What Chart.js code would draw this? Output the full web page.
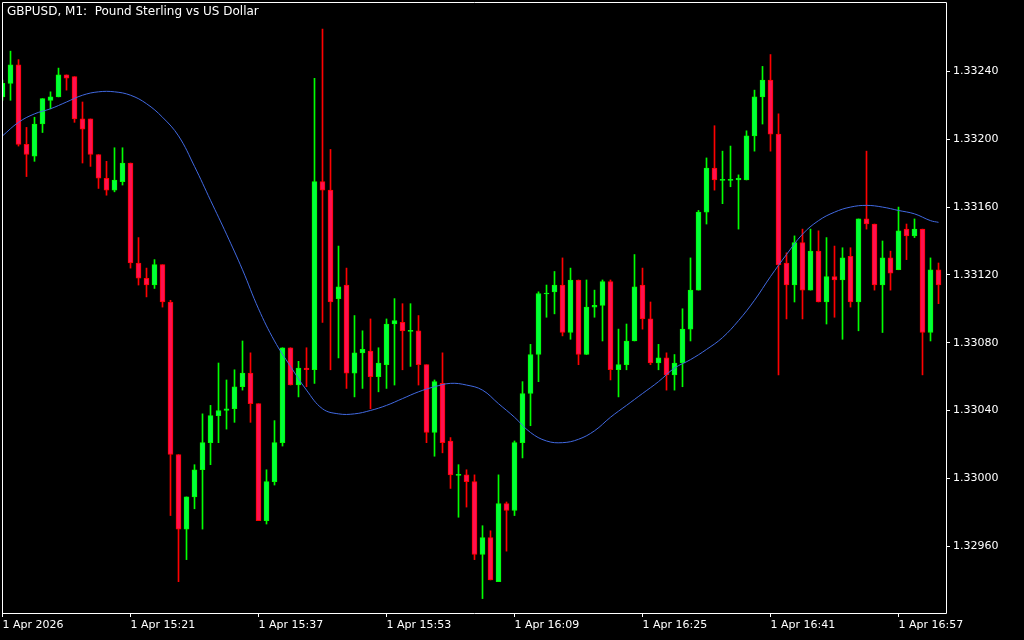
<!DOCTYPE html>
<html>
<head>
<meta charset="utf-8">
<script src="https://cdn.jsdelivr.net/npm/chart.js@4/dist/chart.umd.min.js"></script>
<style>
  html, body { margin: 0; padding: 0; background: #000; }
  #wrap { position: relative; width: 1024px; height: 640px; }
  #title { position: absolute; left: 7px; top: 4px; color: #fff; font: 12px "DejaVu Sans", sans-serif; white-space: pre; }
  canvas { display: block; }
</style>
</head>
<body>
<div id="wrap">
  <canvas id="c" width="1024" height="640"></canvas>
  <div id="title">GBPUSD, M1:  Pound Sterling vs US Dollar</div>
</div>
<script>
// ---- data (1-minute candles, 1 Apr 2026, starting 15:05) ----
const opens = [
1.33225,1.33233,1.33244,1.33197,1.33190,1.33209,1.33223,1.33225,1.33238,1.33237,
1.33212,1.33212,1.33191,1.33177,1.33170,1.33175,1.33186,1.33127,1.33118,1.33114,
1.33126,1.33104,1.33014,1.32970,1.32989,1.33005,1.33021,1.33037,1.33040,1.33041,
1.33054,1.33062,1.33044,1.32975,1.32998,1.33021,1.33077,1.33055,1.33065,1.33064,
1.33175,1.33170,1.33106,1.33114,1.33062,1.33074,1.33075,1.33060,1.33067,1.33091,
1.33092,1.33087,1.33087,1.33067,1.33027,1.33056,1.33022,1.33002,1.33002,1.32998,
1.32955,1.32965,1.32939,1.32985,1.32981,1.33021,1.33050,1.33073,1.33109,1.33110,
1.33114,1.33086,1.33117,1.33073,1.33101,1.33102,1.33116,1.33064,1.33067,1.33081,
1.33114,1.33094,1.33068,1.33071,1.33061,1.33068,1.33088,1.33111,1.33157,1.33183,
1.33176,1.33176,1.33176,1.33176,1.33202,1.33225,1.33235,1.33203,1.33127,1.33114,
1.33139,1.33111,1.33134,1.33104,1.33119,1.33117,1.33131,1.33104,1.33153,1.33150,
1.33114,1.33130,1.33123,1.33147,1.33143,1.33147,1.33086,1.33123];
const highs = [
1.33235,1.33252,1.33247,1.33207,1.33213,1.33224,1.33228,1.33242,1.33238,1.33237,
1.33222,1.33212,1.33191,1.33187,1.33195,1.33195,1.33186,1.33142,1.33124,1.33129,
1.33126,1.33105,1.33014,1.32989,1.33008,1.33038,1.33043,1.33068,1.33058,1.33064,
1.33081,1.33074,1.33044,1.33005,1.33034,1.33077,1.33077,1.33069,1.33077,1.33236,
1.33265,1.33194,1.33137,1.33124,1.33096,1.33087,1.33094,1.33077,1.33094,1.33106,
1.33103,1.33103,1.33096,1.33067,1.33058,1.33074,1.33024,1.33008,1.33005,1.33002,
1.32972,1.32969,1.33002,1.32986,1.33022,1.33057,1.33079,1.33110,1.33114,1.33122,
1.33130,1.33124,1.33117,1.33117,1.33111,1.33117,1.33117,1.33088,1.33091,1.33132,
1.33124,1.33104,1.33079,1.33074,1.33073,1.33100,1.33130,1.33158,1.33189,1.33208,
1.33193,1.33196,1.33179,1.33205,1.33229,1.33243,1.33250,1.33215,1.33133,1.33143,
1.33147,1.33147,1.33146,1.33142,1.33137,1.33136,1.33136,1.33153,1.33193,1.33150,
1.33140,1.33134,1.33160,1.33150,1.33153,1.33147,1.33130,1.33127];
const lows = [
1.33223,1.33223,1.33196,1.33178,1.33187,1.33204,1.33218,1.33225,1.33229,1.33210,
1.33186,1.33184,1.33171,1.33167,1.33169,1.33173,1.33124,1.33114,1.33107,1.33112,
1.33101,1.32978,1.32939,1.32952,1.32982,1.32970,1.33008,1.33021,1.33029,1.33033,
1.33052,1.33033,1.32975,1.32973,1.32996,1.33019,1.33055,1.33048,1.33054,1.33056,
1.33092,1.33064,1.33071,1.33053,1.33048,1.33053,1.33041,1.33051,1.33053,1.33055,
1.33064,1.33066,1.33055,1.33021,1.33013,1.33015,1.32994,1.32977,1.32983,1.32952,
1.32929,1.32940,1.32939,1.32957,1.32978,1.33012,1.33031,1.33057,1.33095,1.33097,
1.33084,1.33082,1.33067,1.33073,1.33095,1.33081,1.33058,1.33048,1.33064,1.33081,
1.33088,1.33067,1.33064,1.33052,1.33052,1.33054,1.33081,1.33111,1.33150,1.33170,
1.33162,1.33172,1.33147,1.33176,1.33193,1.33209,1.33193,1.33061,1.33094,1.33104,
1.33094,1.33111,1.33104,1.33091,1.33095,1.33082,1.33101,1.33087,1.33147,1.33111,
1.33086,1.33111,1.33123,1.33129,1.33142,1.33061,1.33081,1.33103];
const closes = [
1.33233,1.33244,1.33197,1.33191,1.33209,1.33224,1.33225,1.33238,1.33236,1.33212,
1.33206,1.33191,1.33177,1.33170,1.33176,1.33186,1.33127,1.33118,1.33114,1.33126,
1.33104,1.33014,1.32970,1.32989,1.33005,1.33021,1.33037,1.33040,1.33041,1.33054,
1.33062,1.33044,1.32975,1.32998,1.33021,1.33077,1.33055,1.33065,1.33064,1.33175,
1.33170,1.33104,1.33113,1.33062,1.33074,1.33076,1.33060,1.33068,1.33091,1.33093,
1.33087,1.33087,1.33067,1.33027,1.33057,1.33021,1.33002,1.33002,1.32998,1.32955,
1.32965,1.32940,1.32985,1.32981,1.33021,1.33050,1.33073,1.33109,1.33109,1.33114,
1.33086,1.33117,1.33073,1.33101,1.33102,1.33116,1.33064,1.33067,1.33081,1.33113,
1.33094,1.33068,1.33071,1.33061,1.33068,1.33088,1.33111,1.33157,1.33183,1.33176,
1.33176,1.33176,1.33177,1.33202,1.33225,1.33235,1.33203,1.33126,1.33114,1.33139,
1.33111,1.33134,1.33104,1.33119,1.33117,1.33130,1.33104,1.33153,1.33150,1.33114,
1.33130,1.33121,1.33146,1.33143,1.33147,1.33086,1.33123,1.33114];

// moving average (blue line), sampled at candle indices
const maIndex = [0,2,4,6,8,10,12,14,16,18,20,22,24,26,28,30,32,34,36,38,40,42,44,46,48,50,52,54,56,58,
                 60,62,64,66,68,70,72,74,76,78,80,82,84,86,88,90,92,94,96,98,100,102,104,106,108,110,112,114,116,117];
const maValues = [
1.33202,1.33210,1.33215,1.33218,1.33222,1.33226,1.33228,1.33228,1.33226,1.33221,
1.33213,1.33202,1.33184,1.33164,1.33144,1.33123,1.33100,1.33081,1.33066,1.33052,
1.33041,1.33038,1.33038,1.33040,1.33043,1.33047,1.33051,1.33054,1.33056,1.33055,
1.33052,1.33044,1.33036,1.33027,1.33022,1.33021,1.33023,1.33028,1.33036,1.33043,
1.33050,1.33057,1.33065,1.33070,1.33076,1.33083,1.33093,1.33105,1.33119,1.33132,
1.33144,1.33152,1.33157,1.33160,1.33161,1.33160,1.33158,1.33156,1.33152,1.33151];

// axis ticks
const xTickIndex = [0,16,32,48,64,80,96,112];
const xTickLabels = ["1 Apr 2026","1 Apr 15:21","1 Apr 15:37","1 Apr 15:53","1 Apr 16:09","1 Apr 16:25","1 Apr 16:41","1 Apr 16:57"];
const yTickValues = [1.32960,1.33000,1.33040,1.33080,1.33120,1.33160,1.33200,1.33240];

// ---- styling ----
const BULL_FILL = '#00ff3c', BULL_LINE = '#00ff00';
const BEAR_FILL = '#ff1050', BEAR_LINE = '#ff0000';
const isBull = i => closes[i] >= opens[i];

const bodyData = opens.map((o, i) => {
  let a = Math.min(o, closes[i]), b = Math.max(o, closes[i]);
  if (b - a < 0.000004) { a -= 0.000003; b += 0.000003; }
  return { x: i, y: [a, b] };
});
const wickData = opens.map((o, i) => ({ x: i, y: [lows[i], highs[i]] }));
const maData = maIndex.map((k, i) => ({ x: k, y: maValues[i] }));

Chart.defaults.font.family = '"DejaVu Sans", sans-serif';
Chart.defaults.font.size = 11;
Chart.defaults.color = '#ffffff';

const frame = {
  id: 'frame',
  afterDraw(chart) {
    const { ctx, chartArea: a } = chart;
    ctx.save();
    ctx.strokeStyle = '#ffffff';
    ctx.lineWidth = 1;
    ctx.beginPath();
    ctx.moveTo(a.left + 0.5, a.top + 0.5);
    ctx.lineTo(a.right + 0.5, a.top + 0.5);
    ctx.lineTo(a.right + 0.5, a.bottom + 0.5);
    ctx.lineTo(a.left + 0.5, a.bottom + 0.5);
    ctx.closePath();
    ctx.stroke();
    ctx.restore();
  }
};

new Chart(document.getElementById('c'), {
  type: 'bar',
  data: {
    datasets: [
      { type: 'line', label: 'MA', data: maData, borderColor: '#4169e1', borderWidth: 1,
        pointRadius: 0, tension: 0.4, fill: false },
      { label: 'body', data: bodyData, grouped: false, barThickness: 5, borderWidth: 1, borderSkipped: false,
        backgroundColor: c => isBull(c.dataIndex) ? BULL_FILL : BEAR_FILL,
        borderColor: c => isBull(c.dataIndex) ? BULL_LINE : BEAR_LINE },
      { label: 'wick', data: wickData, grouped: false, barThickness: 1, borderWidth: 0,
        backgroundColor: c => isBull(c.dataIndex) ? BULL_LINE : BEAR_LINE }
    ]
  },
  options: {
    responsive: false,
    animation: false,
    layout: { padding: { left: 2, top: 2, right: 0, bottom: 0 } },
    plugins: { legend: { display: false }, tooltip: { enabled: false }, title: { display: false } },
    scales: {
      x: {
        type: 'linear', min: -0.0625, max: 117.9375, offset: false,
        grid: { display: true, drawOnChartArea: false, drawTicks: true, tickLength: 4, color: '#ffffff', offset: false },
        border: { display: false },
        afterBuildTicks: s => { s.ticks = xTickIndex.map(v => ({ value: v })); },
        afterFit: s => { s.height = 27; s.paddingLeft = 0; s.paddingRight = 0; },
        ticks: { align: 'start', maxRotation: 0, minRotation: 0, autoSkip: false, padding: 2, color: '#ffffff',
                 font: { size: 11 },
                 callback: v => xTickLabels[xTickIndex.indexOf(v)] }
      },
      y: {
        position: 'right', min: 1.329205, max: 1.332810,
        grid: { display: true, drawOnChartArea: false, drawTicks: true, tickLength: 4, color: '#ffffff' },
        border: { display: false },
        afterBuildTicks: s => { s.ticks = yTickValues.map(v => ({ value: v })); },
        afterFit: s => { s.width = 78; s.paddingTop = 0; s.paddingBottom = 0; },
        ticks: { padding: 3, color: '#ffffff', font: { size: 11 }, callback: v => v.toFixed(5) }
      }
    }
  },
  plugins: [frame]
});
</script>
</body>
</html>
